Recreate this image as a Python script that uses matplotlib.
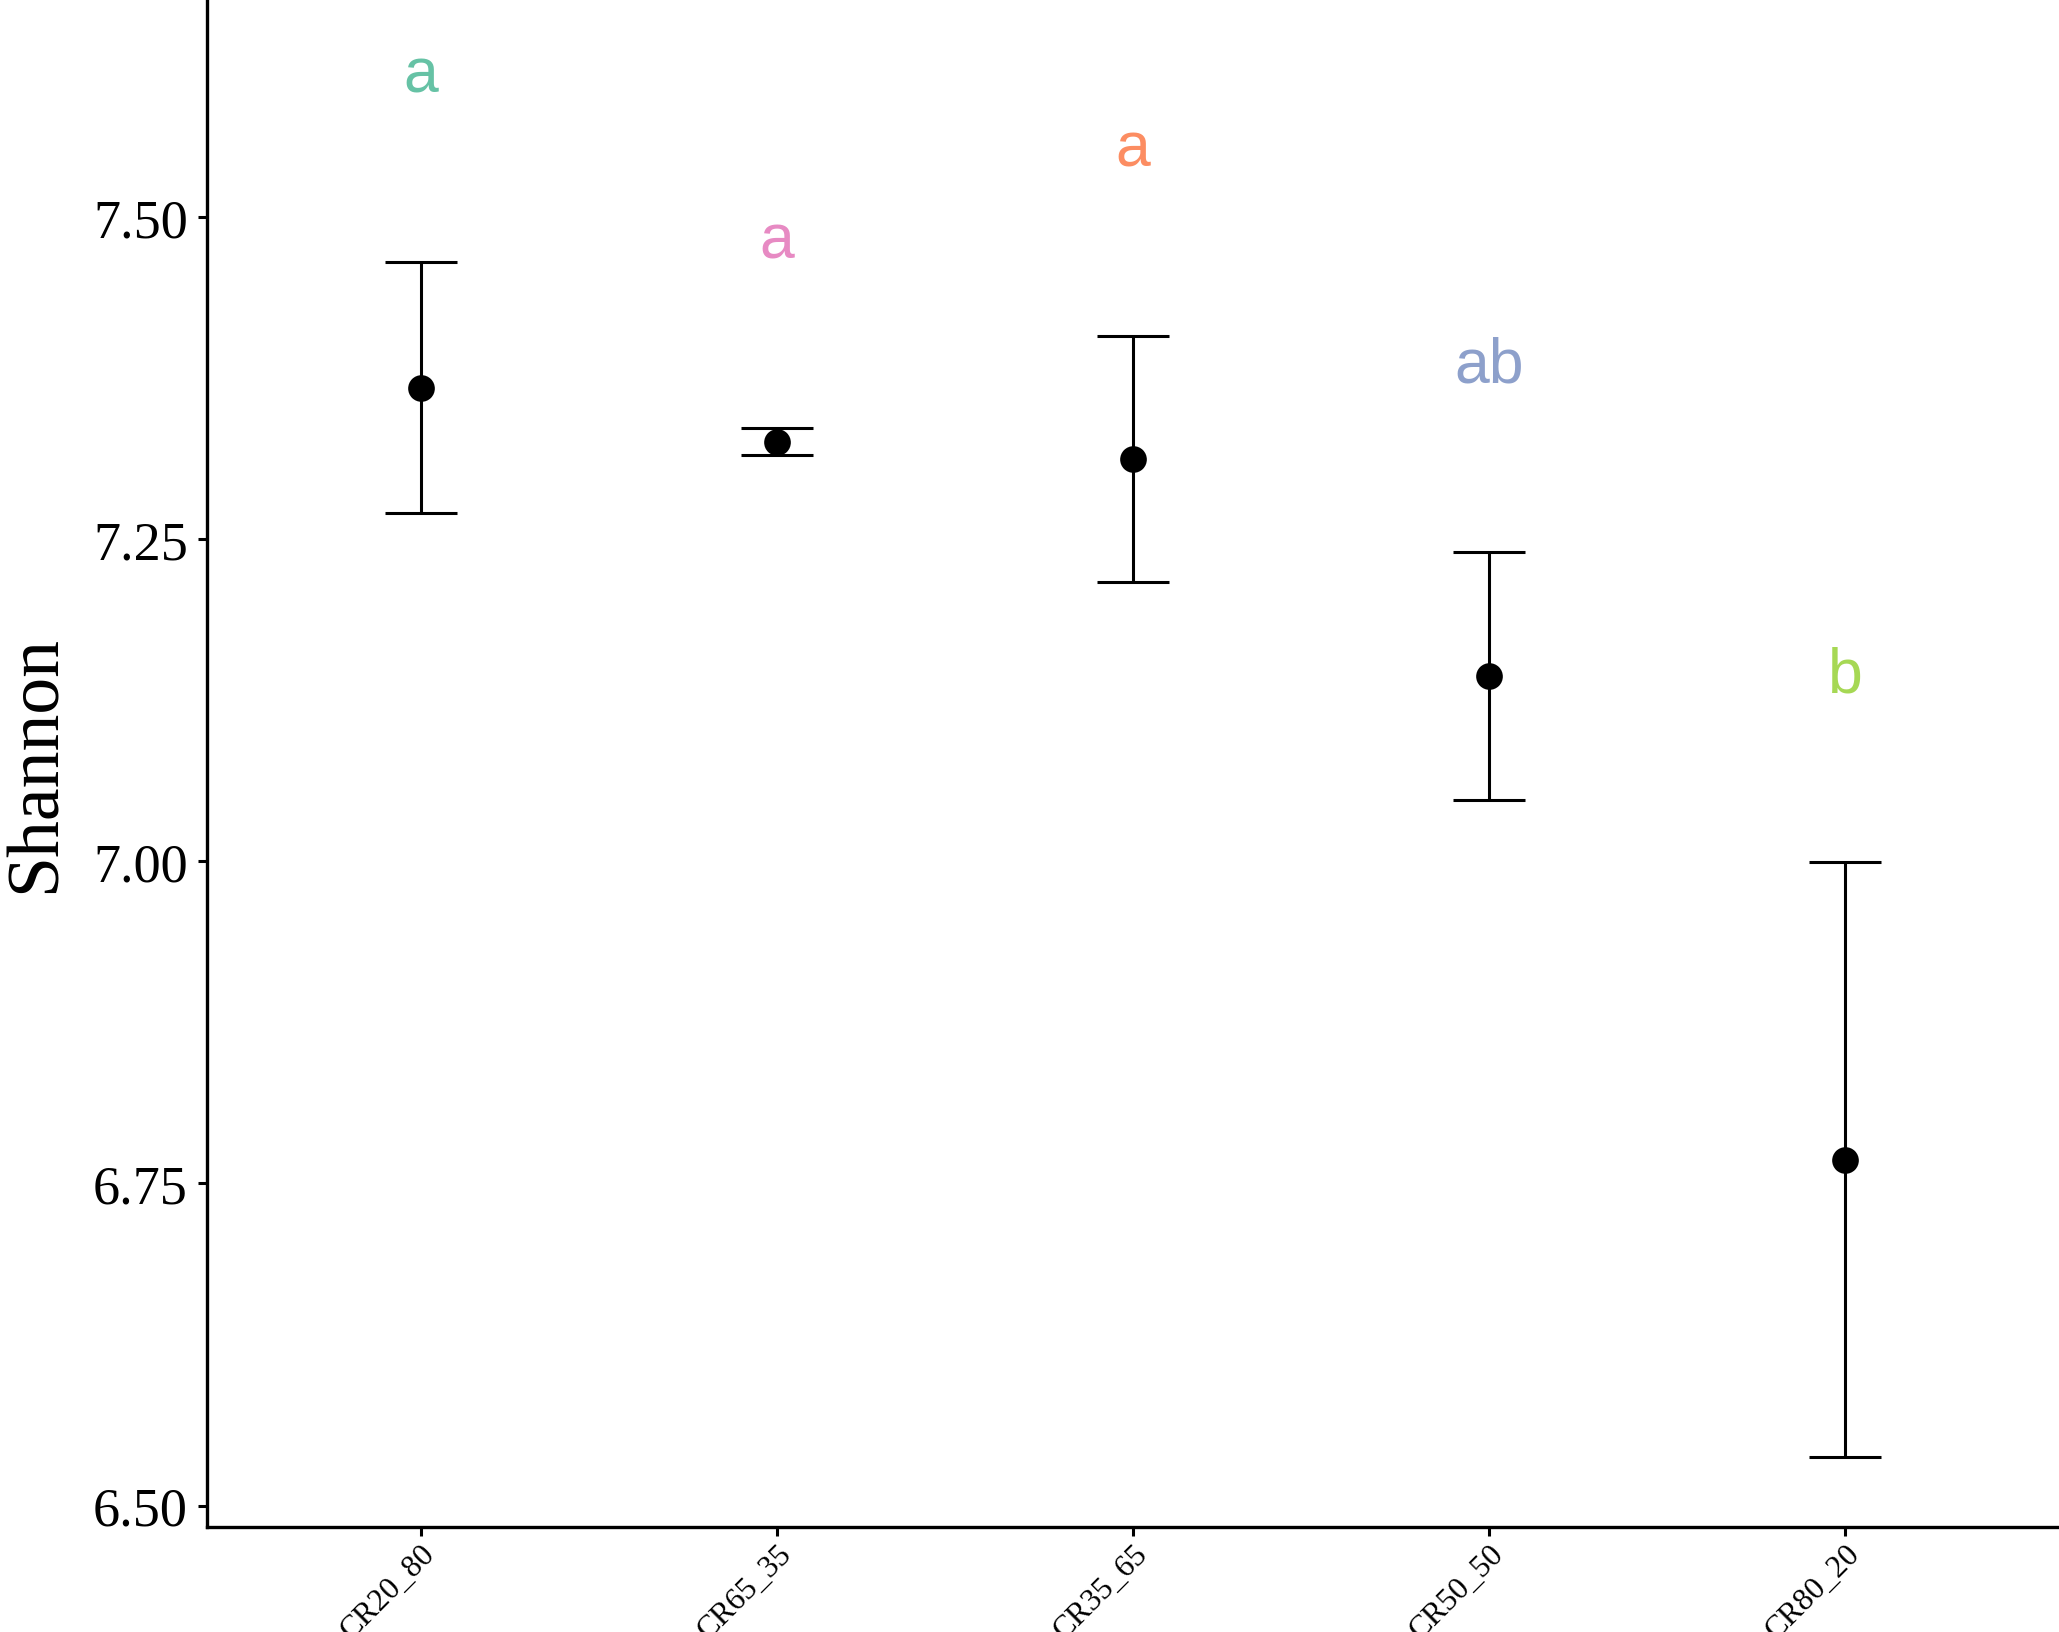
import matplotlib
matplotlib.use("Agg")
import matplotlib.pyplot as plt
import matplotlib.transforms as mtransforms
import numpy as np

# ---- data ----
groups = ["CR20_80", "CR65_35", "CR35_65", "CR50_50", "CR80_20"]
means = [7.3675, 7.3256, 7.3122, 7.1436, 6.7684]
errors = [0.0974, 0.0106, 0.0955, 0.0961, 0.2307]
letters = ["a", "a", "a", "ab", "b"]
letter_colors = ["#66C2A5", "#E78AC3", "#FC8D62", "#8DA0CB", "#A6D854"]
yticks = [6.50, 6.75, 7.00, 7.25, 7.50]
ytick_labels = ["6.50", "6.75", "7.00", "7.25", "7.50"]

W, H, DPI = 2059, 1633, 200
fig = plt.figure(figsize=(W / DPI, H / DPI), dpi=DPI)
left = 207 / W
bottom = (H - 1527.7) / H
ax = fig.add_axes([left, bottom, 1 - left, 1 - bottom])

x = np.arange(1, len(groups) + 1)
means_a = np.array(means)
errs_a = np.array(errors)

ax.errorbar(x, means_a, yerr=errs_a, fmt="o", color="black", ecolor="black",
            elinewidth=1.1, capsize=12.8, capthick=1.1, markersize=8.6, zorder=3)

serif = ["Liberation Serif", "DejaVu Serif"]
sans = ["Liberation Sans", "DejaVu Sans"]

label_offset = 0.145
for xi, up, lab, col in zip(x, means_a + errs_a, letters, letter_colors):
    ax.text(xi, up + label_offset, lab, color=col, fontsize=22.5, family=sans,
            ha="center", va="center")

ax.set_xlim(0.4, 5.6)
ax.set_ylim(6.4836, 7.669)
ax.set_yticks(yticks)
ax.set_yticklabels(ytick_labels, family=serif, fontsize=19.5)
ax.set_xticks(x)
ax.set_xticklabels(groups, family=serif, fontsize=11.3, rotation=45,
                   ha="right", va="top", rotation_mode="anchor")
offset = mtransforms.ScaledTranslation(3 / DPI, 3 / DPI, fig.dpi_scale_trans)
for lbl in ax.get_xticklabels():
    lbl.set_transform(lbl.get_transform() + offset)

ax.tick_params(axis="both", length=3.3, width=1.1, color="black")
ax.tick_params(axis="y", pad=3.6)
ax.tick_params(axis="x", pad=1.0)

for s in ["top", "right"]:
    ax.spines[s].set_visible(False)
for s in ["left", "bottom"]:
    ax.spines[s].set_linewidth(1.2)
    ax.spines[s].set_color("black")

ax.set_ylabel("Shannon", family=serif, fontsize=26.5)
ax.yaxis.set_label_coords(-(207 - 71) / (W - 207), 0.5)

fig.savefig("out.png", dpi=DPI)
